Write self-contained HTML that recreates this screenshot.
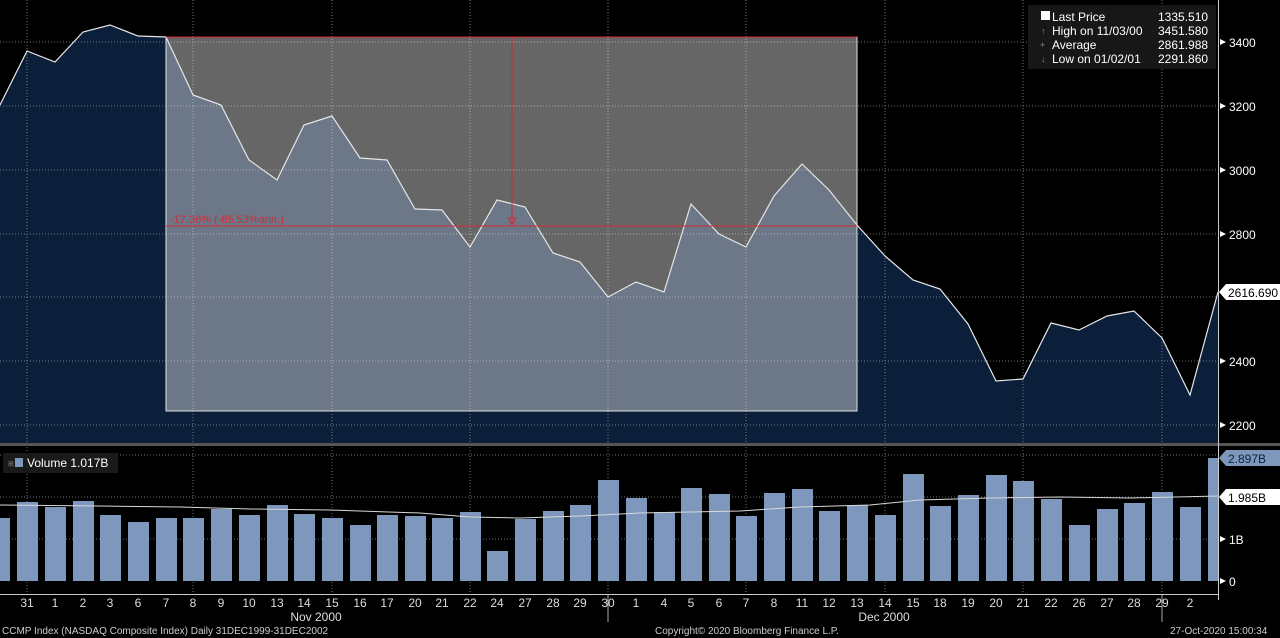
<!DOCTYPE html>
<html><head><meta charset="utf-8"><style>
html,body{margin:0;padding:0;background:#000;width:1280px;height:638px;overflow:hidden}
svg{display:block;font-family:"Liberation Sans",sans-serif}
</style></head><body>
<svg width="1280" height="638" viewBox="0 0 1280 638" xmlns="http://www.w3.org/2000/svg">
<rect width="1280" height="638" fill="#000"/>
<polygon fill="#0b1f3a" points="0,443 0,105 27,51 55,62 83,32 110,25 138,36 166,37 193,95 221,105 249,160 277,180 304,125 332,116 360,158 387,160 415,209 442,210 470,247 497,200 525,207 553,253 580,262 608,297 636,282 664,292 691,204 719,234 746,247 774,196 802,164 829,190 857,225 885,256 913,280 940,289 968,324 996,381 1023,379 1051,323 1079,330 1107,316 1134,311 1162,338 1190,395 1218,292 1218,443"/>
<g stroke="#9aa0a8" stroke-width="1" stroke-dasharray="1,2" opacity="0.7">
<line x1="0" y1="425" x2="1218" y2="425"/><line x1="0" y1="361" x2="1218" y2="361"/><line x1="0" y1="297" x2="1218" y2="297"/><line x1="0" y1="234" x2="1218" y2="234"/><line x1="0" y1="170" x2="1218" y2="170"/><line x1="0" y1="106" x2="1218" y2="106"/><line x1="0" y1="42" x2="1218" y2="42"/>
<line x1="0" y1="539" x2="1218" y2="539"/><line x1="0" y1="497" x2="1218" y2="497"/><line x1="0" y1="455" x2="1218" y2="455"/>
<line x1="27" y1="0" x2="27" y2="594"/><line x1="193" y1="0" x2="193" y2="594"/><line x1="332" y1="0" x2="332" y2="594"/><line x1="470" y1="0" x2="470" y2="594"/><line x1="608" y1="0" x2="608" y2="594"/><line x1="746" y1="0" x2="746" y2="594"/><line x1="885" y1="0" x2="885" y2="594"/><line x1="1023" y1="0" x2="1023" y2="594"/><line x1="1162" y1="0" x2="1162" y2="594"/>
</g>
<rect x="166" y="37" width="691" height="374" fill="#ffffff" fill-opacity="0.4" stroke="#e0e0e0" stroke-width="1"/>
<polyline fill="none" stroke="#e6e6e6" stroke-width="1.2" points="0,105 27,51 55,62 83,32 110,25 138,36 166,37 193,95 221,105 249,160 277,180 304,125 332,116 360,158 387,160 415,209 442,210 470,247 497,200 525,207 553,253 580,262 608,297 636,282 664,292 691,204 719,234 746,247 774,196 802,164 829,190 857,225 885,256 913,280 940,289 968,324 996,381 1023,379 1051,323 1079,330 1107,316 1134,311 1162,338 1190,395 1218,292"/>
<g stroke="#d42a35" stroke-width="1">
<line x1="166" y1="37" x2="857" y2="37"/><line x1="166" y1="226" x2="857" y2="226"/><line x1="512" y1="37" x2="512" y2="226"/>
</g>
<polygon points="508,218 516,218 512,225" fill="none" stroke="#d42a35"/>
<text x="170" y="223" font-size="11" fill="#d42a35">-17.36% (-85.53%ann.)</text>
<rect x="0" y="443" width="1280" height="3" fill="#555"/>
<g fill="#7e98bd">
<rect x="-11" y="518" width="21" height="63"/><rect x="17" y="502" width="21" height="79"/><rect x="45" y="507" width="21" height="74"/><rect x="73" y="501" width="21" height="80"/><rect x="100" y="515" width="21" height="66"/><rect x="128" y="522" width="21" height="59"/><rect x="156" y="518" width="21" height="63"/><rect x="183" y="518" width="21" height="63"/><rect x="211" y="509" width="21" height="72"/><rect x="239" y="515" width="21" height="66"/><rect x="267" y="505" width="21" height="76"/><rect x="294" y="514" width="21" height="67"/><rect x="322" y="518" width="21" height="63"/><rect x="350" y="525" width="21" height="56"/><rect x="377" y="515" width="21" height="66"/><rect x="405" y="516" width="21" height="65"/><rect x="432" y="518" width="21" height="63"/><rect x="460" y="512" width="21" height="69"/><rect x="487" y="551" width="21" height="30"/><rect x="515" y="519" width="21" height="62"/><rect x="543" y="511" width="21" height="70"/><rect x="570" y="505" width="21" height="76"/><rect x="598" y="480" width="21" height="101"/><rect x="626" y="498" width="21" height="83"/><rect x="654" y="512" width="21" height="69"/><rect x="681" y="488" width="21" height="93"/><rect x="709" y="494" width="21" height="87"/><rect x="736" y="516" width="21" height="65"/><rect x="764" y="493" width="21" height="88"/><rect x="792" y="489" width="21" height="92"/><rect x="819" y="511" width="21" height="70"/><rect x="847" y="505" width="21" height="76"/><rect x="875" y="515" width="21" height="66"/><rect x="903" y="474" width="21" height="107"/><rect x="930" y="506" width="21" height="75"/><rect x="958" y="495" width="21" height="86"/><rect x="986" y="475" width="21" height="106"/><rect x="1013" y="481" width="21" height="100"/><rect x="1041" y="499" width="21" height="82"/><rect x="1069" y="525" width="21" height="56"/><rect x="1097" y="509" width="21" height="72"/><rect x="1124" y="503" width="21" height="78"/><rect x="1152" y="492" width="21" height="89"/><rect x="1180" y="507" width="21" height="74"/><rect x="1208" y="458" width="10" height="123"/>
</g>
<polyline fill="none" stroke="#d8d8d8" stroke-width="1" points="0,505 100,506 180,507 250,509 330,510 420,513 470,517 520,518 580,516 640,513 740,511 800,507 870,505 920,500 990,498 1060,497 1130,498 1218,496"/>
<line x1="1218.5" y1="0" x2="1218.5" y2="600" stroke="#ccc"/>
<line x1="0" y1="594.5" x2="1218" y2="594.5" stroke="#ccc"/>
<g fill="#fff" font-size="12">
<text x="1229" y="47">3400</text><text x="1229" y="111">3200</text><text x="1229" y="175">3000</text><text x="1229" y="239">2800</text><text x="1229" y="366">2400</text><text x="1229" y="430">2200</text>
<text x="1229" y="544">1B</text><text x="1229" y="586">0</text>
</g>
<g fill="#fff">
<polygon points="1220,39 1226,42 1220,45"/><polygon points="1220,103 1226,106 1220,109"/><polygon points="1220,167 1226,170 1220,173"/><polygon points="1220,231 1226,234 1220,237"/><polygon points="1220,358 1226,361 1220,364"/><polygon points="1220,422 1226,425 1220,428"/><polygon points="1220,536 1226,539 1220,542"/><polygon points="1220,578 1226,581 1220,584"/>
</g>
<polygon points="1219,292 1226,284 1280,284 1280,300 1226,300" fill="#fff"/>
<text x="1228" y="297" font-size="12" fill="#000">2616.690</text>
<polygon points="1219,458 1226,450 1280,450 1280,466 1226,466" fill="#7e98bd"/>
<text x="1228" y="463" font-size="12" fill="#0b2039">2.897B</text>
<polygon points="1219,497 1226,489 1280,489 1280,505 1226,505" fill="#fff"/>
<text x="1228" y="502" font-size="12" fill="#000">1.985B</text>
<g fill="#ddd" font-size="12" text-anchor="middle">
<text x="27" y="607">31</text><text x="55" y="607">1</text><text x="83" y="607">2</text><text x="110" y="607">3</text><text x="138" y="607">6</text><text x="166" y="607">7</text><text x="193" y="607">8</text><text x="221" y="607">9</text><text x="249" y="607">10</text><text x="277" y="607">13</text><text x="304" y="607">14</text><text x="332" y="607">15</text><text x="360" y="607">16</text><text x="387" y="607">17</text><text x="415" y="607">20</text><text x="442" y="607">21</text><text x="470" y="607">22</text><text x="497" y="607">24</text><text x="525" y="607">27</text><text x="553" y="607">28</text><text x="580" y="607">29</text><text x="608" y="607">30</text><text x="636" y="607">1</text><text x="664" y="607">4</text><text x="691" y="607">5</text><text x="719" y="607">6</text><text x="746" y="607">7</text><text x="774" y="607">8</text><text x="802" y="607">11</text><text x="829" y="607">12</text><text x="857" y="607">13</text><text x="885" y="607">14</text><text x="913" y="607">15</text><text x="940" y="607">18</text><text x="968" y="607">19</text><text x="996" y="607">20</text><text x="1023" y="607">21</text><text x="1051" y="607">22</text><text x="1079" y="607">26</text><text x="1107" y="607">27</text><text x="1134" y="607">28</text><text x="1162" y="607">29</text><text x="1190" y="607">2</text>
<text x="316" y="621">Nov 2000</text><text x="884" y="621">Dec 2000</text>
</g>
<g stroke="#aaa"><line x1="608" y1="595" x2="608" y2="622"/><line x1="1162" y1="595" x2="1162" y2="622"/></g>
<g fill="#ccc" font-size="10">
<text x="2" y="634">CCMP Index (NASDAQ Composite Index)  Daily 31DEC1999-31DEC2002</text>
<text x="655" y="634">Copyright© 2020 Bloomberg Finance L.P.</text>
<text x="1170" y="634">27-Oct-2020 15:00:34</text>
</g>
<rect x="1028" y="5" width="188" height="64" fill="#1a1a1a" fill-opacity="0.9"/>
<rect x="1041" y="11" width="9" height="9" fill="#fff"/>
<g fill="#fff" font-size="12">
<text x="1052" y="21">Last Price</text><text x="1158" y="21">1335.510</text>
<text x="1052" y="35">High on 11/03/00</text><text x="1158" y="35">3451.580</text>
<text x="1052" y="49">Average</text><text x="1158" y="49">2861.988</text>
<text x="1052" y="63">Low on 01/02/01</text><text x="1158" y="63">2291.860</text>
</g>
<g fill="#888" font-size="9"><text x="1041" y="34">↑</text><text x="1040" y="48">+</text><text x="1041" y="62">↓</text></g>
<rect x="3" y="453" width="115" height="20" fill="#1a1a1a"/>
<rect x="15" y="458" width="8" height="9" fill="#7e98bd"/>
<text x="8" y="466" font-size="7" fill="#888">⊞</text>
<text x="27" y="467" font-size="12" fill="#fff">Volume 1.017B</text>
</svg>
</body></html>
